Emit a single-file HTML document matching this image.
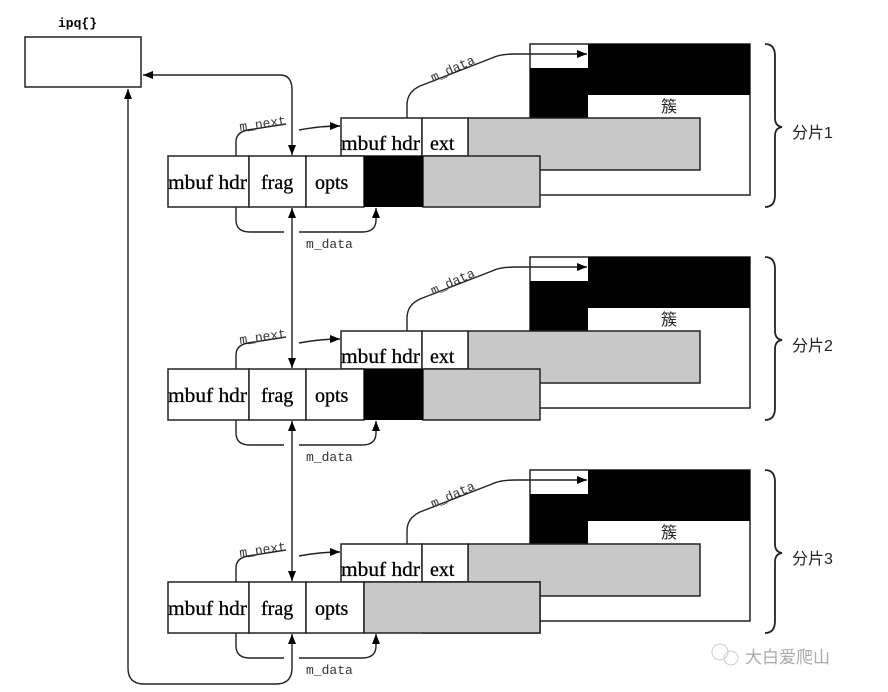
<!DOCTYPE html>
<html><head><meta charset="utf-8"><style>
html,body{margin:0;padding:0;background:#fff;}
svg{display:block;}
.t{font-family:"Liberation Serif","Noto Serif CJK SC",serif;font-size:20px;fill:#000;stroke:#000;stroke-width:0.3;}
.m{font-family:"Liberation Mono",monospace;font-size:13px;fill:#333;}
.c{font-family:"Liberation Sans","Noto Sans CJK SC",sans-serif;font-size:16px;fill:#222;}
</style></head><body>
<svg width="888" height="692" viewBox="0 0 888 692" xmlns="http://www.w3.org/2000/svg">
<defs>
<marker id="a" viewBox="0 0 10 10" refX="10" refY="5" markerWidth="10" markerHeight="10" orient="auto-start-reverse" markerUnits="userSpaceOnUse"><path d="M0,1 L10,5 L0,9 z" fill="#000"/></marker>
<g id="blk">
  <rect x="530" y="44" width="220" height="151" fill="#fff" stroke="#222" stroke-width="1.5"/>
  <rect x="588" y="44" width="162" height="51" fill="#000"/>
  <rect x="530" y="68" width="58" height="50" fill="#000"/>
  <text class="c" x="661" y="112">簇</text>
  <rect x="468" y="118" width="232" height="52" fill="#c8c8c8" stroke="#222" stroke-width="1.5"/>
  <rect x="341" y="118" width="81" height="38" fill="#fff" stroke="#222" stroke-width="1.5"/>
  <rect x="422" y="118" width="46" height="38" fill="#fff" stroke="#222" stroke-width="1.5"/>
  <text class="t" x="341" y="150" textLength="79" lengthAdjust="spacingAndGlyphs">mbuf hdr</text>
  <text class="t" x="430" y="150">ext</text>
  <rect x="423" y="156" width="117" height="51" fill="#c8c8c8" stroke="#222" stroke-width="1.5"/>
  <rect x="168" y="156" width="81" height="51" fill="#fff" stroke="#222" stroke-width="1.5"/>
  <rect x="249" y="156" width="57" height="51" fill="#fff" stroke="#222" stroke-width="1.5"/>
  <rect x="306" y="156" width="58" height="51" fill="#fff" stroke="#222" stroke-width="1.5"/>
  <text class="t" x="168" y="189" textLength="79" lengthAdjust="spacingAndGlyphs">mbuf hdr</text>
  <text class="t" x="261" y="189">frag</text>
  <text class="t" x="315" y="189">opts</text>
  <path d="M236,156 L236,142 Q236,132 248,130 L286,124" fill="none" stroke="#222" stroke-width="1.4"/>
  <path d="M299,130 Q320,126 340,126" fill="none" stroke="#222" stroke-width="1.4" marker-end="url(#a)"/>
  <text class="m" x="240" y="131" transform="rotate(-8 240 131)">m_next</text>
  <path d="M236,207 L236,220 Q236,232 250,232 L284,232 M299,232 L362,232 Q376,232 376,220 L376,208" fill="none" stroke="#222" stroke-width="1.4" marker-end="url(#a)"/>
  <text class="m" x="306" y="248">m_data</text>
  <path d="M407,118 L407,105 Q407,92 420,86 L492,58 Q500,54 515,54 L587,54" fill="none" stroke="#222" stroke-width="1.4" marker-end="url(#a)"/>
  <text class="m" x="433" y="82" transform="rotate(-24 433 82)">m_data</text>
  <path d="M765,44 Q775,44 775,56 L775,118 Q775,126 782,127 Q775,128 775,136 L775,195 Q775,207 765,207" fill="none" stroke="#222" stroke-width="1.8"/>
</g>
</defs>
<text x="58" y="27" font-family="Liberation Mono,monospace" font-weight="bold" font-size="13">ipq{}</text>
<rect x="25" y="37" width="116" height="50" fill="#fff" stroke="#222" stroke-width="1.5"/>
<use href="#blk"/>
<use href="#blk" y="213"/>
<use href="#blk" y="426"/>
<rect x="364" y="156" width="59" height="51" fill="#000"/>
<rect x="364" y="369" width="59" height="51" fill="#000"/>
<rect x="364" y="582" width="176" height="51" fill="#c8c8c8" stroke="#222" stroke-width="1.5"/>
<text class="c" x="792" y="138">分片1</text>
<text class="c" x="792" y="351">分片2</text>
<text class="c" x="792" y="564">分片3</text>
<path d="M280,75 L143,75" fill="none" stroke="#222" stroke-width="1.4" marker-end="url(#a)"/>
<path d="M280,75 Q292,75 292,90 L292,155" fill="none" stroke="#222" stroke-width="1.4" marker-end="url(#a)"/>
<path d="M292,368 L292,208" fill="none" stroke="#222" stroke-width="1.4" marker-start="url(#a)" marker-end="url(#a)"/>
<path d="M292,581 L292,421" fill="none" stroke="#222" stroke-width="1.4" marker-start="url(#a)" marker-end="url(#a)"/>
<path d="M128,89 L128,668 Q128,684 144,684 L276,684 Q292,684 292,668 L292,634" fill="none" stroke="#222" stroke-width="1.4" marker-start="url(#a)" marker-end="url(#a)"/>
<text x="745" y="663" font-family="Noto Sans CJK SC,sans-serif" font-size="17" fill="#aaa">大白爱爬山</text>
<circle cx="720" cy="652" r="8" fill="none" stroke="#ccc"/><circle cx="731" cy="658" r="7" fill="none" stroke="#ccc"/>
</svg>
</body></html>
